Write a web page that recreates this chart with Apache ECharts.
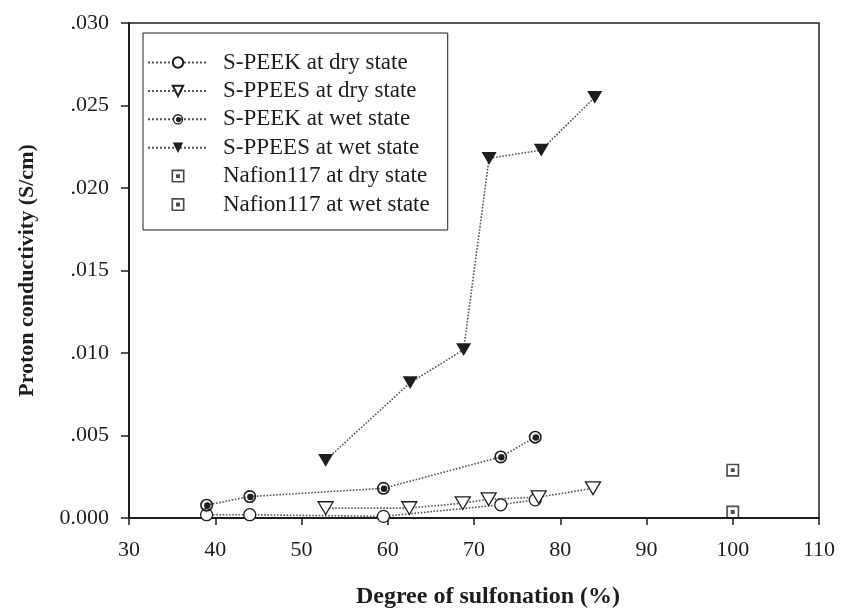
<!DOCTYPE html>
<html>
<head>
<meta charset="utf-8">
<title>Proton conductivity</title>
<script src="https://cdn.jsdelivr.net/npm/echarts@6/dist/echarts.min.js"></script>
<style>
    html, body { margin: 0; padding: 0; background: #fff; }
    #main { width: 842px; height: 613px; }
</style>
</head>
<body>
<div id="main"></div>
<script>
// data
var speekDryX = [39, 44, 59.5, 73.1, 77.1];
var speekDryY = [0.0002, 0.0002, 0.0001, 0.0008, 0.0011];
var sppeesDryX = [52.8, 62.5, 68.7, 71.7, 77.5, 83.8];
var sppeesDryY = [0.0006, 0.0006, 0.0009, 0.00114, 0.00126, 0.0018];
var speekWetX = [39, 44, 59.5, 73.1, 77.1];
var speekWetY = [0.00078, 0.0013, 0.0018, 0.0037, 0.0049];
var sppeesWetX = [52.8, 62.6, 68.8, 71.75, 77.8, 84.0];
var sppeesWetY = [0.0035, 0.0082, 0.0102, 0.0218, 0.0223, 0.0255];
var nafionDryX = [100];
var nafionDryY = [0.00036];
var nafionWetX = [100];
var nafionWetY = [0.0029];

var seriesNames = [
    'S-PEEK at dry state',
    'S-PPEES at dry state',
    'S-PEEK at wet state',
    'S-PPEES at wet state',
    'Nafion117 at dry state',
    'Nafion117 at wet state'
];

var FONT = '"Liberation Serif", "DejaVu Serif", serif';
var INK = '#1e1e1e';

// marker shapes
var downTri = 'path://M0,0 L20,0 L10,17 Z';
var halfCircle = 'path://M0,-10 A10,10 0 1,1 0,10 A10,10 0 1,1 0,-10 Z ' +
    'M0,-7.5 A7.5,7.5 0 1,0 0,7.5 A7.5,7.5 0 1,0 0,-7.5 Z ' +
    'M1,-4.5 A5,5 0 1,1 1,5.5 A5,5 0 1,1 1,-4.5 Z';
var boxDot = 'path://M0,0 H20 V20 H0 Z M2.5,2.5 V17.5 H17.5 V2.5 Z M7,7 H13 V13 H7 Z';

function zip(xs, ys) {
    var arr = [];
    for (var i = 0; i < xs.length; i++) {
        arr.push([xs[i], ys[i]]);
    }
    return arr;
}

function lineSeries(name, xs, ys, symbol, size, filled) {
    return {
        name: name,
        type: 'line',
        data: zip(xs, ys),
        symbol: symbol,
        symbolSize: size,
        symbolKeepAspect: true,
        showAllSymbol: true,
        z: 3,
        lineStyle: { color: '#555', width: 1.6, type: 'dotted' },
        itemStyle: filled ? { color: INK, borderWidth: 0 }
                          : { color: '#fff', borderColor: INK, borderWidth: 1.3 }
    };
}

function dotSeries(name, xs, ys) {
    return {
        name: name,
        type: 'scatter',
        data: zip(xs, ys),
        symbol: boxDot,
        symbolSize: 13,
        symbolKeepAspect: true,
        z: 3,
        itemStyle: { color: INK }
    };
}

var myChart = echarts.init(document.getElementById('main'));

var option = {
    backgroundColor: '#fff',
    animation: false,
    grid: {
        left: 129, right: 23, top: 23, bottom: 95,
        outerBoundsMode: 'none',
        containLabel: false,
        show: true,
        borderColor: INK,
        borderWidth: 1.5,
        backgroundColor: 'transparent'
    },
    legend: {
        orient: 'vertical',
        left: 143,
        top: 33,
        padding: [18, 18, 14, 4],
        itemGap: 5.4,
        itemWidth: 60,
        itemHeight: 13,
        borderColor: INK,
        borderWidth: 1,
        backgroundColor: '#fff',
        data: seriesNames,
        textStyle: {
            fontFamily: FONT, fontSize: 23, color: INK,
            lineHeight: 23, padding: [0, 0, 0, 10]
        }
    },
    xAxis: {
        type: 'value',
        min: 30, max: 110, interval: 10,
        name: 'Degree of sulfonation (%)',
        nameLocation: 'middle',
        nameGap: 67,
        nameTextStyle: {
            fontFamily: FONT, fontSize: 24, fontWeight: 'bold', color: INK,
            padding: [0, 0, 0, 28]
        },
        axisLine: { show: true, onZero: false, lineStyle: { color: INK, width: 2 } },
        axisTick: { show: true, inside: false, length: 7, lineStyle: { color: INK, width: 1.5 } },
        axisLabel: { fontFamily: FONT, fontSize: 22, color: INK, margin: 21 },
        splitLine: { show: false }
    },
    yAxis: {
        type: 'value',
        min: 0, max: 0.03, interval: 0.005,
        name: 'Proton conductivity (S/cm)',
        nameLocation: 'middle',
        nameGap: 91,
        nameTextStyle: { fontFamily: FONT, fontSize: 22, fontWeight: 'bold', color: INK },
        axisLine: { show: true, onZero: false, lineStyle: { color: INK, width: 2 } },
        axisTick: { show: true, inside: false, length: 8, lineStyle: { color: INK, width: 1.5 } },
        axisLabel: {
            fontFamily: FONT, fontSize: 22, color: INK, margin: 20,
            formatter: function (v) {
                if (v === 0) return '0.000';
                return v.toFixed(3).replace(/^0/, '');
            }
        },
        splitLine: { show: false }
    },
    series: [
        lineSeries(seriesNames[0], speekDryX, speekDryY, 'circle', 12, false),
        lineSeries(seriesNames[1], sppeesDryX, sppeesDryY, downTri, 15, false),
        lineSeries(seriesNames[2], speekWetX, speekWetY, halfCircle, 13, true),
        lineSeries(seriesNames[3], sppeesWetX, sppeesWetY, downTri, 15, true),
        dotSeries(seriesNames[4], nafionDryX, nafionDryY),
        dotSeries(seriesNames[5], nafionWetX, nafionWetY)
    ]
};

myChart.setOption(option);
</script>
</body>
</html>
